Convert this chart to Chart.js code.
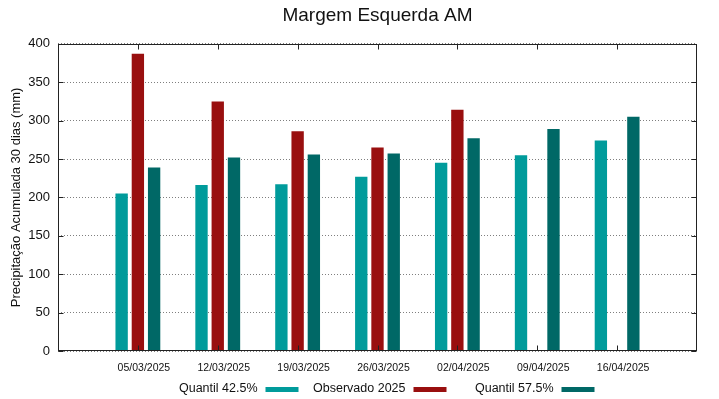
<!DOCTYPE html>
<html>
<head>
<meta charset="utf-8">
<script src="https://cdn.jsdelivr.net/npm/chart.js@4.4.1/dist/chart.umd.min.js"></script>
<style>
    body { margin: 0; background: #ffffff; }
    #wrap { width: 719px; height: 399px; }
</style>
</head>
<body>
<div id="wrap"><canvas id="chart" width="719" height="399"></canvas></div>
<script>
const dateLabels = ["05/03/2025", "12/03/2025", "19/03/2025", "26/03/2025", "02/04/2025", "09/04/2025", "16/04/2025"];
const quantil425 = [205, 216, 217, 227, 245, 255, 274];
const observado2025 = [387, 325, 286, 265, 314, null, null];
const quantil575 = [239, 252, 256, 257, 277, 289, 305];

const COLORS = {
    q425: "#009b9b",
    obs: "#990f0f",
    q575: "#006866",
    frame: "#222222",
    grid: "rgba(0,0,0,0.5)",
    text: "#111111"
};
const FONT = "'Liberation Sans', Arial, sans-serif";

// empty category at each end so the axis runs from -1 to 7 like the original
const pad = arr => [null, ...arr, null];

// gnuplot-style frame, inward ticks and "text then swatch" key
const framePlugin = {
    id: "frame",
    afterDraw(chart) {
        const { ctx, chartArea: a, scales } = chart;
        const L = Math.round(a.left) + 0.5, R = Math.round(a.right) - 0.5;
        const T = Math.round(a.top) + 0.5, B = Math.round(a.bottom) - 0.5;
        ctx.save();
        ctx.strokeStyle = COLORS.frame;
        ctx.lineWidth = 1;
        ctx.strokeRect(L, T, R - L, B - T);

        const tl = 5;
        ctx.beginPath();
        for (let i = 1; i <= dateLabels.length; i++) {
            const x = Math.round(scales.x.getPixelForValue(i)) + 0.5;
            ctx.moveTo(x, T); ctx.lineTo(x, T + tl);
            ctx.moveTo(x, B); ctx.lineTo(x, B - tl);
        }
        for (let v = 0; v <= 400; v += 50) {
            const y = Math.round(scales.y.getPixelForValue(v)) + 0.5;
            ctx.moveTo(L, y); ctx.lineTo(L + tl, y);
            ctx.moveTo(R, y); ctx.lineTo(R - tl, y);
        }
        ctx.stroke();

        // key
        const cx = (a.left + a.right) / 2;
        const ky = 389;
        ctx.font = "12.5px " + FONT;
        ctx.textAlign = "right";
        ctx.textBaseline = "middle";
        chart.data.datasets.forEach((ds, i) => {
            const sx = cx - 112 + i * 148;
            ctx.fillStyle = COLORS.text;
            ctx.fillText(ds.label, sx - 8, ky);
            ctx.fillStyle = ds.backgroundColor;
            ctx.fillRect(sx, ky - 2, 33, 5);
        });
        ctx.restore();
    }
};

new Chart(document.getElementById("chart").getContext("2d"), {
    type: "bar",
    data: {
        labels: ["", ...dateLabels, ""],
        datasets: [
            { label: "Quantil 42.5%", data: pad(quantil425), backgroundColor: COLORS.q425 },
            { label: "Observado 2025", data: pad(observado2025), backgroundColor: COLORS.obs },
            { label: "Quantil 57.5%", data: pad(quantil575), backgroundColor: COLORS.q575 }
        ]
    },
    options: {
        responsive: false,
        animation: false,
        layout: { padding: { left: 0, right: 22, top: 0, bottom: 0 } },
        datasets: { bar: { categoryPercentage: 0.61, barPercentage: 0.76, borderWidth: 0 } },
        plugins: {
            legend: { display: false },
            tooltip: { enabled: false },
            title: {
                display: true,
                text: "Margem Esquerda AM",
                fullSize: false,
                color: COLORS.text,
                font: { family: FONT, size: 19, weight: "normal" },
                padding: { top: 4, bottom: 17 }
            }
        },
        scales: {
            x: {
                offset: false,
                grid: { display: false, offset: false },
                border: { display: false },
                ticks: {
                    color: COLORS.text,
                    font: { family: FONT, size: 10.5 },
                    maxRotation: 0,
                    autoSkip: false,
                    labelOffset: 6,
                    padding: 3
                },
                afterFit: s => { s.height = 48; }
            },
            y: {
                min: 0,
                max: 400,
                grid: { color: COLORS.grid, drawTicks: false, lineWidth: 1 },
                border: { display: false, dash: [1, 2] },
                ticks: {
                    stepSize: 50,
                    color: COLORS.text,
                    font: { family: FONT, size: 13 },
                    padding: 8
                },
                title: {
                    display: true,
                    text: "Precipitação Acumulada 30 dias (mm)",
                    color: COLORS.text,
                    font: { family: FONT, size: 13 },
                    padding: { top: 9, bottom: 0 }
                },
                afterFit: s => { s.width = 58; }
            }
        }
    },
    plugins: [framePlugin]
});
</script>
</body>
</html>
